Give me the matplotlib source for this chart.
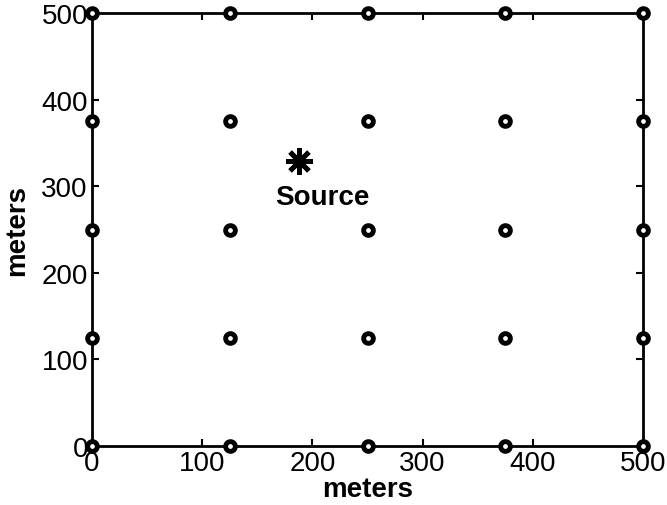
import matplotlib
matplotlib.use("Agg")
import matplotlib.pyplot as plt
import numpy as np

plt.rcParams['font.family'] = ['Liberation Sans', 'DejaVu Sans']

# receiver grid positions (meters)
grid_x = [0, 125, 250, 375, 500]
grid_y = [0, 125, 250, 375, 500]
source_x = 188
source_y = 329
source_label = "Source"
label_x = 209
label_y = 287

fig = plt.figure(figsize=(6.67, 5.06), dpi=100)
ax = fig.add_axes([0.138, 0.1166, 0.826, 0.8557])

gx, gy = np.meshgrid(grid_x, grid_y)
ax.plot(gx.ravel(), gy.ravel(), 'o', ms=7, mfc='white', mec='black', mew=3.5,
        clip_on=False, zorder=5)
ax.plot(source_x, source_y, marker=(8, 2, 0), color='black', ms=19, mew=3.5,
        ls='none')
ax.text(label_x, label_y, source_label, ha='center', va='center',
        fontsize=20, fontweight='bold')

ax.set_xlim(0, 500)
ax.set_ylim(0, 500)
ax.set_xticks([0, 100, 200, 300, 400, 500])
ax.set_yticks([0, 100, 200, 300, 400, 500])
ax.tick_params(direction='in', length=5, width=1.5, labelsize=20,
               top=True, right=True, pad=3)
for s in ax.spines.values():
    s.set_linewidth(2)
ax.set_xlabel('meters', fontsize=20, fontweight='bold', labelpad=0)
ax.set_ylabel('meters', fontsize=20, fontweight='bold', labelpad=8)

fig.savefig('out.png', dpi=100)
